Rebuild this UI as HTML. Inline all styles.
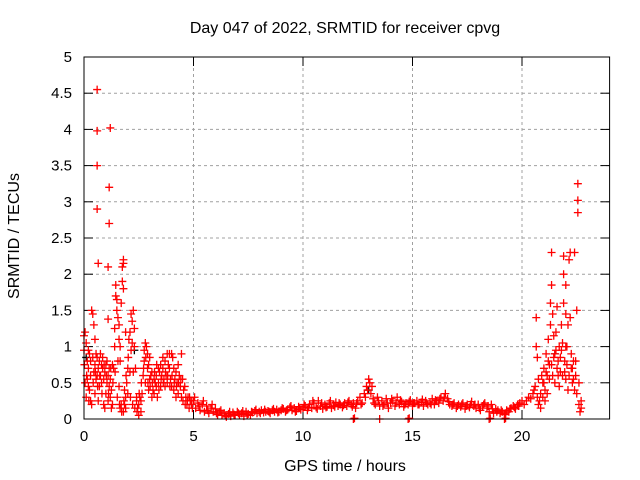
<!DOCTYPE html>
<html><head><meta charset="utf-8"><style>
html,body{margin:0;padding:0;background:#fff;}
svg{display:block;font-family:"Liberation Sans",sans-serif;}
</style></head><body>
<svg id="chart" width="640" height="480" viewBox="0 0 640 480" xmlns="http://www.w3.org/2000/svg">
<rect width="640" height="480" fill="#fff"/>
<g id="grid"></g>
<g id="ticks"></g>
<g id="marks"></g>
<rect x="84" y="57" width="525.6" height="362" fill="none" stroke="#000" stroke-width="1"/>
<text x="345" y="33" font-size="16" text-anchor="middle">Day 047 of 2022, SRMTID for receiver cpvg</text>
<text x="345" y="471" font-size="16" text-anchor="middle">GPS time / hours</text>
<text transform="translate(19,236) rotate(-90)" font-size="16" text-anchor="middle">SRMTID / TECUs</text>
</svg>
<script>
const xTicks=[0,5,10,15,20];
const yTicks=[0,0.5,1,1.5,2,2.5,3,3.5,4,4.5,5];
const yTickLabels=["0","0.5","1","1.5","2","2.5","3","3.5","4","4.5","5"];
const morningPts=[[0.0,1.15],[0.0,0.95],[0.05,1.2],[0.05,0.5],[0.1,1.05],[0.1,0.3],[0.15,0.8],[0.15,0.55],[0.2,0.45],[0.2,0.7],[0.25,0.9],[0.25,0.4],[0.3,0.6],[0.3,0.25],[0.35,1.5],[0.35,0.2],[0.4,1.45],[0.4,0.85],[0.45,0.65],[0.45,1.3],[0.5,0.75],[0.5,1.1],[0.55,0.9],[0.55,0.55],[0.6,0.85],[0.6,0.6],[0.65,0.7],[0.7,0.45],[0.7,0.8],[0.75,0.6],[0.75,0.9],[0.8,0.5],[0.85,0.85],[0.85,0.7],[0.9,0.55],[0.9,0.2],[0.95,0.65],[0.95,0.15],[1.0,0.75],[1.0,0.35],[1.05,0.5],[1.1,0.6],[1.1,0.25],[1.15,0.7],[1.2,0.3],[1.2,0.55],[1.25,0.15],[1.25,0.4],[1.3,0.75],[1.3,0.2],[1.35,0.7],[1.4,1.0],[1.4,1.25],[1.45,1.7],[1.45,1.85],[1.5,1.65],[1.5,1.5],[1.55,1.4],[1.55,0.8],[1.6,1.3],[1.6,1.1],[1.6,0.45],[1.65,1.0],[1.65,0.15],[1.7,0.2],[1.7,1.6],[1.75,1.9],[1.75,2.1],[1.8,2.2],[1.8,1.8],[1.8,0.1],[1.85,0.2],[1.85,0.4],[1.9,0.15],[1.9,0.3],[1.95,0.5],[2.0,0.35],[2.0,0.7],[2.05,1.1],[2.1,1.2],[2.1,0.65],[2.15,1.45],[2.15,0.95],[2.2,1.35],[2.2,1.05],[2.25,1.5],[2.25,0.65],[2.3,1.25],[2.3,1.0],[2.35,0.7],[2.4,0.25],[2.4,0.3],[2.45,0.15],[2.5,0.05],[2.5,0.2],[2.55,0.3],[2.6,0.1],[2.6,0.25],[2.65,0.35],[2.7,0.6],[2.75,0.95],[2.75,0.8],[2.8,1.05],[2.8,0.5],[2.85,1.0],[2.9,0.9],[2.9,0.7],[2.95,0.75],[3.0,0.55],[3.0,0.85],[3.05,0.6],[3.1,0.3],[3.15,0.4],[3.2,0.35],[3.25,0.5],[3.3,0.6],[3.35,0.3],[3.4,0.5],[3.45,0.65],[3.5,0.45],[3.55,0.6],[3.6,0.7],[3.65,0.55],[3.7,0.8],[3.75,0.6],[3.8,0.5],[3.85,0.75],[3.9,0.9],[3.95,0.55],[4.0,0.9],[4.0,0.45],[4.05,0.85],[4.1,0.7],[4.15,0.55],[4.2,0.65],[4.25,0.5],[4.3,0.35],[4.35,0.6],[4.4,0.45],[4.45,0.3],[4.45,0.9],[4.5,0.55],[4.55,0.4],[4.6,0.45],[4.65,0.3],[4.7,0.2],[4.75,0.3],[4.8,0.15],[4.85,0.25],[4.9,0.2],[4.95,0.15],
[3.1,0.65],[3.3,0.45],[3.5,0.75],[3.7,0.45],[3.8,0.9],[3.9,0.7],[4.1,0.4],[4.3,0.75],[3.6,0.85],[3.2,0.55],[2.95,0.4],[3.4,0.7],[0.2,0.95],[0.5,0.35],[0.65,0.25],[1.05,0.8],[1.15,0.45],[0.3,0.8],[0.8,0.75],[4.2,0.3],
[0.02,0.75],[0.12,0.6],[0.22,0.25],[0.42,0.5],[0.52,0.65],[0.62,0.45],[0.72,0.6],[0.82,0.35],[0.92,0.75],[1.02,0.6],[1.12,0.35],[1.22,0.7],[1.32,0.5],[1.42,0.65],[1.52,0.3],[1.62,0.2],[1.72,0.1],[1.82,0.25],[1.92,0.6],[2.02,0.85],[2.12,0.3],[2.22,0.2],[2.32,0.15],[2.42,0.1],[2.52,0.35],[2.62,0.5],[2.72,0.7],[2.82,0.85],[2.92,0.5],[3.02,0.45],[3.12,0.5],[3.22,0.65],[3.32,0.75],[3.42,0.4],[3.52,0.55],[3.62,0.5],[3.72,0.65],[3.82,0.6],[3.92,0.45],[4.02,0.6],[4.12,0.5],[4.22,0.45],[4.32,0.5],[4.42,0.55],[4.52,0.25],[4.62,0.2],[4.72,0.25],[4.82,0.3],[4.92,0.25]];
const outlierPts=[[0.6,4.55],[0.6,3.98],[0.6,3.5],[0.65,2.15],[1.2,4.02],[1.15,3.2],[1.15,2.7],[1.65,0.8],[1.8,2.15],[1.9,1.2],[0.6,2.9],[1.1,2.1],[1.1,1.38]];
const quietPts=[[5.0,.25],[5.1,.15],[5.2,.22],[5.3,.12],[5.4,.2],[5.5,.1],[5.6,.18],[5.7,.08],[5.8,.15],[5.9,.1],[6.0,.14],[6.1,.06],[6.2,.1],[6.3,.05],[6.4,.08],[6.5,.03],[6.6,.07],[6.7,.04],[6.8,.09],[6.9,.05],[7.0,.1],[7.1,.06],[7.2,.08],[7.3,.04],[7.4,.1],[7.5,.07],[7.6,.05],[7.7,.09],[7.8,.11],[7.9,.08],[8.0,.1],[8.1,.12],[8.2,.09],[8.3,.1],[8.4,.11],[8.5,.08],[8.6,.12],[8.7,.1],[8.8,.13],[8.9,.1],[9.0,.12],[9.1,.14],[9.2,.1],[9.3,.13],[9.4,.16],[9.5,.12],[9.6,.15],[9.7,.11],[9.8,.17],[9.9,.13],[10.0,.15],[10.1,.18],[10.2,.12],[10.3,.2],[10.4,.15],[10.5,.22],[10.6,.16],[10.7,.25],[10.8,.18],[10.9,.14],[11.0,.2],[11.1,.17],[11.2,.22],[11.3,.15],[11.4,.19],[11.5,.23],[11.6,.18],[11.7,.2],[11.8,.16],[11.9,.22],[12.0,.18],[12.1,.25],[12.2,.2],[12.3,.22],[12.4,.15],[12.5,.25],[12.6,.3],[12.7,.22],[12.8,.35],[12.9,.45],[13.0,.55],[13.05,.5],[13.1,.35],[13.2,.28],[13.3,.2],[13.4,.3],[13.5,.18],[13.6,.25],[13.7,.2],[13.8,.28],[13.9,.15],[14.0,.22],[14.1,.25],[14.2,.18],[14.3,.3],[14.4,.2],[14.5,.24],[14.6,.17],[14.7,.22],[14.8,.2],[14.9,.26],[15.0,.18],[15.1,.22],[15.2,.25],[15.3,.2],[15.4,.23],[15.5,.18],[15.6,.25],[15.7,.2],[15.8,.22],[15.9,.28],[16.0,.2],[16.1,.25],[16.2,.22],[16.3,.3],[16.4,.25],[16.5,.35],[16.6,.28],[16.7,.2],[16.8,.18],[16.9,.22],[17.0,.15],[17.1,.2],[17.2,.17],[17.3,.22],[17.4,.14],[17.5,.2],[17.6,.16],[17.7,.24],[17.8,.18],[17.9,.15],[18.0,.2],[18.1,.12],[18.2,.18],[18.3,.22],[18.4,.15],[18.5,.1],[18.6,.2],[18.7,.08],[18.8,.14],[18.9,.12],[19.0,.08],[19.1,.1],[19.2,.06],[19.3,.12],[19.4,.1],[19.5,.15],[19.6,.18],[19.7,.14],[19.8,.2],[19.9,.22],[20.0,.25]];
const quietPts2=[[5.05,.3],[5.25,.18],[5.45,.25],[5.65,.12],[5.85,.2],[6.05,.08],[6.25,.12],[6.45,.05],[6.65,.1],[6.85,.06],[7.05,.08],[7.25,.11],[7.45,.06],[7.65,.1],[7.85,.13],[8.05,.08],[8.25,.13],[8.45,.1],[8.65,.14],[8.85,.09],[9.05,.15],[9.25,.12],[9.45,.18],[9.65,.1],[9.85,.15],[10.05,.2],[10.25,.16],[10.45,.25],[10.65,.14],[10.85,.22],[11.05,.16],[11.25,.25],[11.45,.17],[11.65,.22],[11.85,.19],[12.05,.23],[12.25,.17],[12.45,.22],[12.65,.2],[12.85,.3],[12.95,.4],[13.15,.45],[13.25,.22],[13.45,.25],[13.65,.18],[13.85,.22],[14.05,.28],[14.25,.22],[14.45,.26],[14.65,.2],[14.85,.24],[15.05,.22],[15.25,.2],[15.45,.27],[15.65,.22],[15.85,.2],[16.05,.26],[16.25,.28],[16.45,.3],[16.65,.24],[16.85,.2],[17.05,.18],[17.25,.2],[17.45,.18],[17.65,.2],[17.85,.2],[18.05,.15],[18.25,.2],[18.45,.18],[18.65,.14],[18.85,.1],[19.05,.12],[19.25,.08],[19.45,.14],[19.65,.16],[19.85,.18]];
const zeroPts=[[12.3,0],[12.35,0.01],[13.5,0],[14.8,0],[14.85,0.01],[18.5,0],[18.55,0.01],[19.2,0],[19.25,0.01]];
const eveningPts=[[20.1,0.2],[20.2,0.25],[20.3,0.3],[20.4,0.28],[20.5,0.35],[20.55,0.4],[20.6,0.45],[20.65,1.0],[20.65,1.4],[20.7,0.3],[20.7,0.85],[20.75,0.2],[20.75,0.55],[20.8,0.25],[20.85,0.35],[20.9,0.6],[20.95,0.3],[21.0,0.5],[21.0,0.7],[21.05,0.4],[21.1,0.65],[21.1,0.9],[21.15,0.35],[21.2,0.8],[21.2,1.1],[21.25,0.55],[21.3,1.3],[21.3,1.6],[21.35,0.75],[21.35,1.85],[21.35,2.3],[21.4,1.45],[21.4,0.6],[21.45,1.15],[21.5,0.9],[21.5,0.5],[21.55,1.2],[21.6,0.7],[21.6,1.55],[21.65,0.8],[21.7,1.0],[21.7,0.45],[21.75,0.65],[21.8,1.3],[21.8,0.95],[21.85,0.6],[21.9,2.25],[21.9,1.6],[21.95,0.8],[22.0,0.55],[22.0,1.0],[22.05,0.75],[22.1,1.3],[22.1,0.4],[22.15,2.2],[22.2,2.3],[22.2,1.4],[22.25,0.9],[22.3,0.7],[22.3,0.5],[22.35,0.8],[22.4,2.3],[22.4,0.4],[22.45,0.6],[22.5,1.5],[22.5,0.35],[22.55,3.25],[22.55,3.02],[22.55,2.85],[22.6,0.2],[22.6,0.5],[22.65,0.1],[22.7,0.25],[22.7,0.15],[22.0,1.85],[21.9,2.0],[22.0,1.45],[20.85,0.15],[20.95,0.5],[21.05,0.25],[21.15,0.6],[21.25,0.75],[21.45,0.85],[21.55,0.95],[21.65,0.6],[21.75,0.85],[21.85,1.05],[21.95,0.65],[22.05,1.0],[22.15,0.6],[22.25,0.7],[22.35,0.55],[22.45,0.8]];
const blackPts=[[0.1,0.85],[2.3,0.95],[13.0,0.4],[21.5,0.9]];

const NS="http://www.w3.org/2000/svg";
const X0=84,X1=609.6,Y0=419,Y1=57,XMAX=24,YMAX=5;
function xs(t){return X0+(t/XMAX)*(X1-X0);}
function ys(v){return Y0-(v/YMAX)*(Y0-Y1);}
const grid=document.getElementById('grid'),ticks=document.getElementById('ticks'),marks=document.getElementById('marks');
function mk(tag,attrs,parent){const e=document.createElementNS(NS,tag);for(const k in attrs)e.setAttribute(k,attrs[k]);parent.appendChild(e);return e;}
yTicks.forEach((v,i)=>{
  const y=ys(v);
  if(v>0&&v<YMAX){const g=mk('line',{x1:X0,x2:X1,y1:y,y2:y,stroke:'#a0a0a0','stroke-dasharray':'3,3'},grid);
  
  }
  mk('line',{x1:X0,x2:X0+9,y1:y,y2:y,stroke:'#000'},ticks);
  mk('line',{x1:X1-9,x2:X1,y1:y,y2:y,stroke:'#000'},ticks);
  const t=mk('text',{x:X0-12,y:y+5,'font-size':15,'text-anchor':'end'},ticks);
  t.textContent=yTickLabels[i];
  
  
});
xTicks.forEach(v=>{
  const x=xs(v);
  if(v>0){const g=mk('line',{x1:x,x2:x,y1:Y0,y2:Y1,stroke:'#a0a0a0','stroke-dasharray':'3,3'},grid);
  
  }
  mk('line',{x1:x,x2:x,y1:Y0,y2:Y0-9,stroke:'#000'},ticks);
  mk('line',{x1:x,x2:x,y1:Y1,y2:Y1+9,stroke:'#000'},ticks);
  const t=mk('text',{x:x,y:Y0+22,'font-size':15,'text-anchor':'middle'},ticks);
  t.textContent=String(v);
  
  
});
function plus(p,color){
  const x=xs(p[0]),y=ys(p[1]);
  const e=mk('path',{d:`M${x-4},${y}H${x+4}M${x},${y-4}V${y+4}`,stroke:color,'stroke-width':1.3,fill:'none'},marks);
  
  
}
blackPts.forEach(p=>plus(p,'#000000'));
[morningPts,outlierPts,quietPts,quietPts2,zeroPts,eveningPts].forEach(arr=>arr.forEach(p=>plus(p,'#ff0000')));
</script>
</body></html>
